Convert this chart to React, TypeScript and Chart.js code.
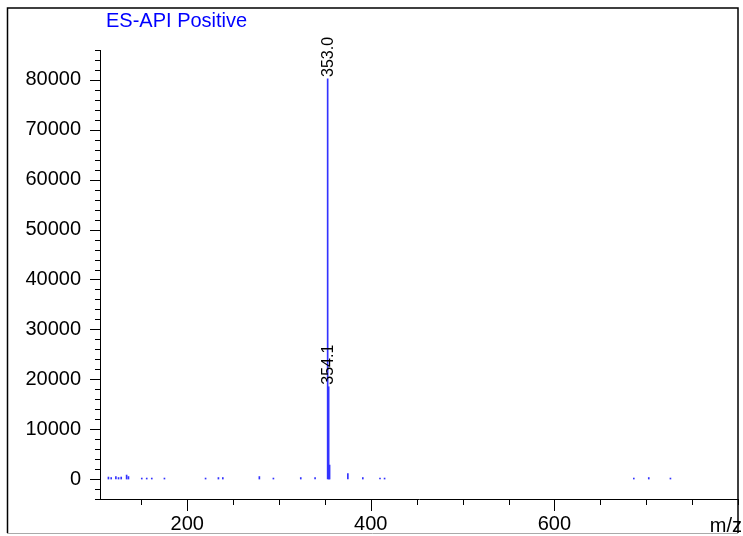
import React, { useEffect, useRef } from "react";
import { Chart, registerables } from "chart.js";

Chart.register(...registerables);

const TITLE = "ES-API Positive";
const X_TITLE = "m/z";

// m/z values of the peaks and their intensities
const peakMz = [
  114.2, 117.2, 122.3, 125.2, 128.1, 134.0, 136.0, 150.5, 155.9, 161.4, 175.2,
  220.0, 234.0, 238.8, 278.6, 293.9, 323.7, 339.3, 353.0, 354.1, 355.1, 375.0,
  391.3, 410.0, 415.0, 686.5, 702.8, 726.4,
];
const peakIntensity = [
  400, 300, 500, 300, 400, 800, 500, 200, 200, 200, 200,
  200, 300, 300, 500, 200, 300, 300, 80200, 18500, 2800, 1100,
  300, 200, 200, 200, 300, 200,
];

// annotated peaks
const labelMz = [353.0, 354.1];
const labelText = ["353.0", "354.1"];

const xMajorTicks = [200, 400, 600];
const xMinorTicks = [150, 200, 250, 300, 350, 400, 450, 500, 550, 600, 650, 700, 750, 800];
const yMajorTicks = [0, 10000, 20000, 30000, 40000, 50000, 60000, 70000, 80000];
const yMinorTicks = [
  -4000, -2000, 0, 2000, 4000, 6000, 8000, 10000, 12000, 14000, 16000, 18000, 20000,
  22000, 24000, 26000, 28000, 30000, 32000, 34000, 36000, 38000, 40000, 42000, 44000,
  46000, 48000, 50000, 52000, 54000, 56000, 58000, 60000, 62000, 64000, 66000, 68000,
  70000, 72000, 74000, 76000, 78000, 80000, 82000, 84000, 86000,
];

const FONT = '"Liberation Sans", Arial, sans-serif';

const decorPlugin = {
  id: "decor",
  afterDraw(chart: any) {
    const ctx = chart.ctx;
    const xs = chart.scales.x;
    const ys = chart.scales.y;
    const area = chart.chartArea;
    ctx.save();
    // tick marks
    ctx.strokeStyle = "#000";
    ctx.lineWidth = 1;
    ctx.beginPath();
    yMinorTicks.forEach((v) => {
      const y = Math.round(ys.getPixelForValue(v)) + 0.5;
      const len = yMajorTicks.includes(v) ? 10 : 5;
      ctx.moveTo(area.left - len, y);
      ctx.lineTo(area.left, y);
    });
    xMinorTicks.forEach((v) => {
      const x = Math.round(xs.getPixelForValue(v)) + 0.5;
      const len = xMajorTicks.includes(v) ? 12 : 6;
      ctx.moveTo(x, area.bottom);
      ctx.lineTo(x, area.bottom + len);
    });
    ctx.stroke();

    // peak labels
    const meta = chart.getDatasetMeta(0);
    ctx.fillStyle = "#000";
    ctx.font = `16px ${FONT}`;
    ctx.textAlign = "left";
    ctx.textBaseline = "middle";
    labelMz.forEach((mz, i) => {
      const idx = peakMz.indexOf(mz);
      if (idx < 0) return;
      const el = meta.data[idx];
      ctx.save();
      ctx.translate(Math.round(xs.getPixelForValue(353.0)) + 0.5, el.y - 2);
      ctx.rotate(-Math.PI / 2);
      ctx.fillText(labelText[i], 0, 0);
      ctx.restore();
    });

    // title
    ctx.fillStyle = "#0000ff";
    ctx.font = `20px ${FONT}`;
    ctx.textAlign = "left";
    ctx.textBaseline = "alphabetic";
    ctx.fillText(TITLE, 106, 27);

    // x axis title
    ctx.fillStyle = "#000";
    ctx.textAlign = "right";
    ctx.fillText(X_TITLE, 742, 532);

    // frame
    ctx.strokeStyle = "#000";
    ctx.lineWidth = 1.5;
    ctx.beginPath();
    ctx.moveTo(7.5, 533);
    ctx.lineTo(7.5, 8);
    ctx.lineTo(738, 8);
    ctx.lineTo(738, 533);
    ctx.stroke();
    ctx.strokeStyle = "#aaa";
    ctx.lineWidth = 1;
    ctx.beginPath();
    ctx.moveTo(7, 533.5);
    ctx.lineTo(738, 533.5);
    ctx.stroke();
    ctx.restore();
  },
};

export default function App() {
  const ref = useRef<HTMLCanvasElement>(null);
  useEffect(() => {
    if (!ref.current) return;
    const chart = new Chart(ref.current, {
      type: "bar",
      data: {
        datasets: [
          {
            data: peakMz.map((x, i) => ({ x, y: peakIntensity[i] })),
            backgroundColor: "#3333ff",
            borderWidth: 0,
            barThickness: 1,
          } as any,
        ],
      },
      options: {
        animation: false,
        responsive: true,
        maintainAspectRatio: false,
        devicePixelRatio: 1,
        layout: { padding: { left: 0, top: 50, right: 5, bottom: 0 } },
        plugins: { legend: { display: false }, tooltip: { enabled: false }, title: { display: false } },
        scales: {
          x: {
            type: "linear",
            min: 105,
            max: 800,
            offset: false,
            grid: { display: false, drawTicks: true, tickLength: 12 },
            border: { display: true, color: "#000", width: 1 },
            ticks: {
              font: { family: FONT, size: 20 },
              color: "#000",
              padding: 1,
              maxRotation: 0,
              autoSkip: false,
              callback: (v: any) => String(v),
            },
            afterBuildTicks: (scale: any) => {
              scale.ticks = xMajorTicks.map((v) => ({ value: v }));
            },
            afterFit: (scale: any) => {
              scale.height = 37;
            },
          },
          y: {
            type: "linear",
            min: -4000,
            max: 86000,
            grid: { display: false, drawTicks: true, tickLength: 10 },
            border: { display: true, color: "#000", width: 1 },
            ticks: {
              font: { family: FONT, size: 20 },
              color: "#000",
              padding: 9,
              autoSkip: false,
              callback: (v: any) => String(v),
            },
            afterBuildTicks: (scale: any) => {
              scale.ticks = yMajorTicks.map((v) => ({ value: v }));
            },
            afterFit: (scale: any) => {
              scale.width = 100;
            },
          },
        },
      },
      plugins: [decorPlugin],
    });
    return () => chart.destroy();
  }, []);
  return (
    <div style={{ position: "absolute", left: 0, top: 0, width: 743, height: 536, background: "#fff" }}>
      <canvas ref={ref} />
    </div>
  );
}
